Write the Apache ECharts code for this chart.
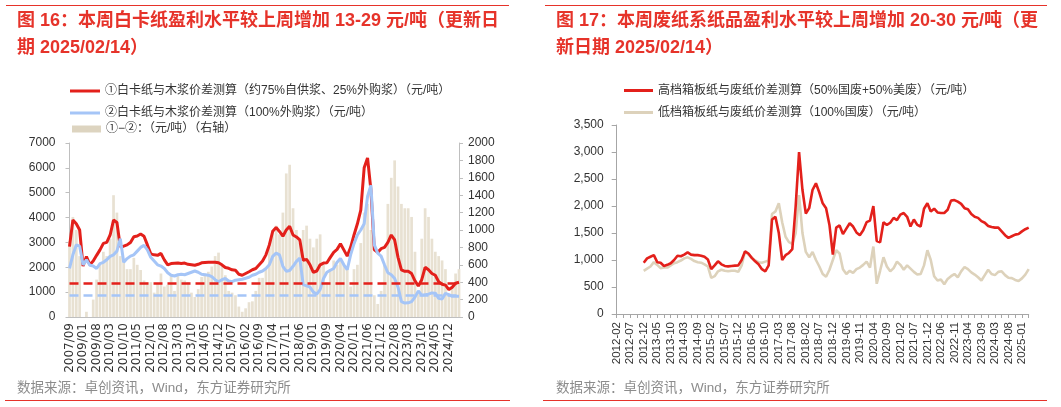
<!DOCTYPE html>
<html><head><meta charset="utf-8">
<script src="https://cdn.jsdelivr.net/npm/echarts@6/dist/echarts.min.js"></script>
<style>html,body{margin:0;padding:0;background:#fff}#c{width:1061px;height:407px}</style>
</head><body><div id="c"></div>
<script>
// ---------- LEFT CHART (图16) ----------
const leftTicks = ['2007/09','2009/01','2009/08','2010/03','2010/10','2011/05','2012/01','2012/08','2013/03','2013/10','2014/05','2014/12','2015/07','2016/02','2016/09','2017/04','2017/11','2018/06','2019/01','2019/09','2020/04','2020/11','2021/06','2021/12','2022/08','2023/03','2023/10','2024/05','2024/12'];
const leftRed = [
2830,3900,3750,3500,2050,2430,2100,2250,2480,2700,
2960,3000,3300,3900,3800,2830,2850,2900,3000,3230,
3260,3340,3250,2900,2540,2500,2480,2560,2300,2100,
2150,2160,2170,2150,2170,2120,2100,2080,2120,2180,
2190,2200,2200,2200,2180,2100,1990,1960,1900,1880,
1720,1680,1750,1820,1900,1950,2100,2250,2500,2900,
3450,3600,3440,3250,3500,3650,3300,3220,3100,2280,
2320,2100,1800,1850,2100,2170,2180,2400,2600,2720,
2950,2700,2450,2800,3300,3750,4300,6000,6400,5100,
2700,2600,2750,2800,3000,3300,3100,2400,1900,1840,
1840,1750,1450,1250,1500,2000,1900,1750,1680,1420,
1320,1280,1100,1200,1360,1400];
const leftBlue = [
1960,2500,2900,2850,2100,2300,2080,2050,1950,2150,
2200,2300,2440,2500,2650,3150,2200,2350,2450,2500,
2650,2800,2880,2700,2400,2250,2100,2050,1950,1780,
1680,1650,1700,1720,1700,1750,1800,1850,1800,1720,
1700,1680,1620,1500,1420,1500,1550,1450,1420,1480,
1500,1520,1560,1600,1680,1720,1800,1850,1950,2100,
2440,2570,2500,2040,1840,1870,2040,2240,2370,1300,
1250,1200,1000,920,1100,1550,1800,1880,1950,2200,
2350,2100,1900,2500,2950,3300,3500,3750,4850,5300,
2900,2570,2450,2100,1780,1700,1550,1200,620,560,
570,620,800,1050,880,900,920,970,960,750,
720,950,900,830,830,830];
const leftDiff = [
870,1150,1000,700,0,60,0,200,430,600,
750,700,900,1400,1200,700,650,550,550,680,
600,540,420,400,400,280,380,500,350,370,
470,300,470,430,420,400,280,230,320,460,
500,520,580,700,740,600,480,300,280,250,
120,60,100,170,180,300,450,450,550,800,
1000,1050,950,1200,1650,1750,1250,1000,850,1000,
1050,900,800,900,950,600,400,550,650,600,
650,600,550,350,550,600,850,1200,1300,1000,
250,150,300,600,1300,1600,1800,1500,1300,1250,
1250,1150,750,300,900,1250,1150,900,750,700,
650,550,250,350,500,550];
const leftRedAvg = 1370;
const leftBlueAvg = 880;

// ---------- RIGHT CHART (图17) ----------
const rightTicks = ['2012-02','2012-07','2012-12','2013-05','2013-10','2014-03','2014-09','2015-02','2015-07','2015-12','2016-05','2016-10','2017-03','2017-08','2018-02','2018-07','2018-12','2019-06','2019-11','2020-04','2020-09','2021-02','2021-07','2021-12','2022-06','2022-11','2023-04','2023-09','2024-03','2024-08','2025-01'];
const rightHigh = [
null,null,null,null,null,null,null,null,
950,1030,1060,1090,960,950,890,910,940,1000,
1080,1070,1100,1140,1100,1090,1090,1080,1060,1010,
830,900,975,920,890,882,890,895,900,1000,
1160,1120,1040,975,920,830,790,900,1750,1800,
1500,1000,1090,1130,1200,2000,3000,2300,1860,1960,
2300,2420,2250,2050,1960,1650,1100,1600,1640,1480,
1580,1680,1620,1510,1460,1550,1700,1730,2000,1350,
1330,1700,1650,1690,1780,1740,1840,1870,1800,1620,
1750,1650,1620,1950,2050,1900,1950,1880,1870,1870,
1930,2100,2110,2080,2040,1960,1940,1850,1800,1780,
1720,1690,1630,1610,1600,1600,1530,1460,1410,1440,
1470,1480,1530,1570,1600];
const rightLow = [
null,null,null,null,null,null,null,null,
800,840,880,960,910,850,860,860,900,940,
960,990,1030,1050,1020,980,960,950,920,880,
670,700,790,820,800,790,800,800,780,900,
1160,1100,1040,990,960,950,970,990,1850,1900,
2050,1700,1430,1330,1300,1500,2200,1500,1150,1050,
1150,1000,880,740,690,820,1000,1180,1120,830,
740,800,760,830,860,910,970,860,1250,560,
800,1050,880,790,850,970,910,820,900,840,
780,730,740,900,1180,1000,700,620,640,550,
650,700,740,680,790,870,830,770,730,680,
620,720,820,740,720,780,790,720,670,665,
630,610,660,730,830];

const N1 = '①白卡纸与木浆价差测算（约75%自供浆、25%外购浆）（元/吨）';
const N2 = '②白卡纸与木浆价差测算（100%外购浆）（元/吨）';
const N3 = '①−②：（元/吨）（右轴）';
const N4 = '高档箱板纸与废纸价差测算（50%国废+50%美废）（元/吨）';
const N5 = '低档箱板纸与废纸价差测算（100%国废）（元/吨）';

function buildCats(ticks, per, extra) {
  const out = [];
  ticks.forEach((t, i) => {
    out.push(t);
    const n = i < ticks.length - 1 ? per - 1 : extra;
    for (let k = 1; k <= n; k++) out.push(t + '#' + k);
  });
  return out;
}
const leftCats = buildCats(leftTicks, 4, 3);
const rightCats = buildCats(rightTicks, 4, 2);

const FF = '"Liberation Sans", "Noto Sans CJK SC", sans-serif';
const FF_WIDE = '"DejaVu Sans", "Noto Sans CJK SC", sans-serif';
const RED = '#e3201b';
const BLUE = '#a5c5f7';
const BEIGE_BAR = '#e8e1d2';
const BEIGE_LEG = '#ddd4c0';
const BEIGE_LINE = '#ddd2bb';
const TITLE_RED = '#e6332a';
const AX = '#bfbfbf';
const TXT = '#333333';

const chart = echarts.init(document.getElementById('c'), null, {renderer: 'canvas'});
const titleStyle = {color: TITLE_RED, fontSize: 18, fontWeight: 'bold', fontFamily: FF};
const srcStyle = {color: '#8c8c8c', fontSize: 13.5, fontWeight: 'normal', fontFamily: FF};
const legText = {fontSize: 12, color: TXT, fontFamily: FF};

chart.setOption({
  animation: false,
  backgroundColor: '#fff',
  title: [
    {text: '图 16：本周白卡纸盈利水平较上周增加 13-29 元/吨（更新日', left: 17, top: 12, padding: 0, textStyle: titleStyle},
    {text: '期 2025/02/14）', left: 17, top: 39, padding: 0, textStyle: titleStyle},
    {text: '图 17：本周废纸系纸品盈利水平较上周增加 20-30 元/吨（更', left: 556, top: 12, padding: 0, textStyle: titleStyle},
    {text: '新日期 2025/02/14）', left: 556, top: 39, padding: 0, textStyle: titleStyle},
    {text: '数据来源：卓创资讯，Wind，东方证券研究所', left: 17, top: 382, padding: 0, textStyle: srcStyle},
    {text: '数据来源：卓创资讯，Wind，东方证券研究所', left: 556, top: 382, padding: 0, textStyle: srcStyle}
  ],
  graphic: [
    {type: 'line', shape: {x1: 6, y1: 5.5, x2: 509, y2: 5.5}, style: {stroke: TITLE_RED, lineWidth: 1.2}},
    {type: 'line', shape: {x1: 5, y1: 400.5, x2: 510, y2: 400.5}, style: {stroke: TITLE_RED, lineWidth: 1.2}},
    {type: 'line', shape: {x1: 545, y1: 5.5, x2: 1047, y2: 5.5}, style: {stroke: TITLE_RED, lineWidth: 1.2}},
    {type: 'line', shape: {x1: 543, y1: 400.5, x2: 1047, y2: 400.5}, style: {stroke: TITLE_RED, lineWidth: 1.2}}
  ],
  legend: [
    {data: [{name: N1, icon: 'rect'}], left: 70, top: 85, padding: 0, itemWidth: 30, itemHeight: 3, textStyle: legText},
    {data: [{name: N2, icon: 'rect'}], left: 70, top: 107, padding: 0, itemWidth: 30, itemHeight: 3, textStyle: legText},
    {data: [{name: N3, icon: 'rect', itemStyle: {color: BEIGE_LEG}}], left: 72, top: 123, padding: 0, itemWidth: 29, itemHeight: 7, textStyle: legText},
    {data: [{name: N4, icon: 'rect'}], left: 624, top: 84.5, padding: 0, itemWidth: 29, itemHeight: 3, textStyle: legText},
    {data: [{name: N5, icon: 'rect'}], left: 624, top: 106.5, padding: 0, itemWidth: 29, itemHeight: 3, textStyle: legText}
  ],
  grid: [
    {left: 69.5, top: 143, width: 389.5, height: 174, containLabel: false, outerBoundsMode: 'none'},
    {left: 616.7, top: 125, width: 412, height: 189, containLabel: false, outerBoundsMode: 'none'}
  ],
  xAxis: [
    {gridIndex: 0, type: 'category', data: leftCats, boundaryGap: false,
     axisLine: {show: true, lineStyle: {color: AX, width: 1}}, axisTick: {show: false},
     splitLine: {show: false},
     axisLabel: {interval: 3, rotate: 90, margin: 6, fontSize: 12, color: TXT, fontFamily: FF_WIDE}},
    {gridIndex: 1, type: 'category', data: rightCats, boundaryGap: false,
     axisLine: {show: true, lineStyle: {color: '#a6a6a6', width: 1}},
     axisTick: {show: true, interval: 1, length: 4, lineStyle: {color: '#a6a6a6'}},
     splitLine: {show: false},
     axisLabel: {interval: 3, rotate: 90, margin: 8, fontSize: 11.5, color: TXT, fontFamily: FF}}
  ],
  yAxis: [
    {gridIndex: 0, type: 'value', min: 0, max: 7000, interval: 1000, position: 'left',
     splitLine: {show: false}, axisLine: {show: true, lineStyle: {color: AX}},
     axisTick: {show: true, length: 4, lineStyle: {color: AX}},
     axisLabel: {margin: 14, fontSize: 12, color: TXT, fontFamily: FF, formatter: v => String(v)}},
    {gridIndex: 0, type: 'value', min: 0, max: 2000, interval: 200, position: 'right',
     splitLine: {show: false}, axisLine: {show: true, lineStyle: {color: AX}},
     axisTick: {show: true, length: 4, lineStyle: {color: AX}},
     axisLabel: {margin: 9, fontSize: 12, color: TXT, fontFamily: FF, formatter: v => String(v)}},
    {gridIndex: 1, type: 'value', min: 0, max: 3500, interval: 500, position: 'left',
     splitLine: {show: false}, axisLine: {show: true, lineStyle: {color: '#a6a6a6'}},
     axisTick: {show: true, length: 5, lineStyle: {color: '#a6a6a6'}},
     axisLabel: {margin: 13, fontSize: 12, color: TXT, fontFamily: FF,
       formatter: v => v.toLocaleString('en-US')}}
  ],
  series: [
    {name: N3, type: 'bar', xAxisIndex: 0, yAxisIndex: 1, data: leftDiff, barCategoryGap: '20%',
     itemStyle: {color: BEIGE_BAR}, z: 1, silent: true, large: false},
    {name: N1, type: 'line', xAxisIndex: 0, yAxisIndex: 0, data: leftRed, symbol: 'none', z: 3,
     lineStyle: {color: RED, width: 3}, itemStyle: {color: RED},
     markLine: {silent: true, symbol: ['none', 'none'], label: {show: false},
       lineStyle: {color: RED, width: 2.5, type: [9, 5]}, data: [{yAxis: leftRedAvg}]}},
    {name: N2, type: 'line', xAxisIndex: 0, yAxisIndex: 0, data: leftBlue, symbol: 'none', z: 4,
     lineStyle: {color: BLUE, width: 3}, itemStyle: {color: BLUE},
     markLine: {silent: true, symbol: ['none', 'none'], label: {show: false},
       lineStyle: {color: BLUE, width: 2.5, type: [9, 5]}, data: [{yAxis: leftBlueAvg}]}},
    {name: N4, type: 'line', xAxisIndex: 1, yAxisIndex: 2, data: rightHigh, symbol: 'none', z: 4,
     lineStyle: {color: RED, width: 2.6}, itemStyle: {color: RED}},
    {name: N5, type: 'line', xAxisIndex: 1, yAxisIndex: 2, data: rightLow, symbol: 'none', z: 3,
     lineStyle: {color: BEIGE_LINE, width: 2.6}, itemStyle: {color: BEIGE_LINE}}
  ]
});
</script>
</body></html>
